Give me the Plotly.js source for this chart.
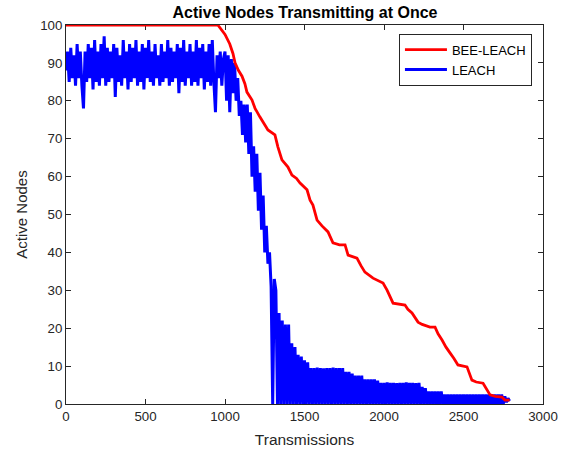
<!DOCTYPE html>
<html>
<head>
<meta charset="utf-8">
<script src="https://cdn.plot.ly/plotly-3.0.1.min.js"></script>
<style>html,body{margin:0;padding:0;background:#fff;}#chart{width:563px;height:452px;}</style>
</head>
<body>
<div id="chart"></div>
<script>
// BEE-LEACH: active nodes
const beeX = [0, 955, 1000, 1030, 1050, 1063, 1085, 1107, 1125, 1138, 1170, 1189, 1220, 1245, 1270, 1314, 1333, 1358, 1396, 1421, 1450, 1472, 1516, 1535, 1553, 1579, 1610, 1648, 1679, 1720, 1755, 1774, 1830, 1855, 1880, 1931, 1994, 2020, 2057, 2132, 2150, 2176, 2214, 2240, 2289, 2321, 2340, 2365, 2390, 2415, 2440, 2465, 2522, 2553, 2580, 2623, 2667, 2700, 2742, 2761, 2790];
const beeY = [100, 100, 97.5, 95, 92.5, 90, 88, 86.5, 84.5, 82.3, 80.2, 78, 75.7, 74, 72.3, 71, 67.8, 64.4, 62.5, 60.4, 59.5, 58.3, 56.5, 53.8, 52.5, 48.5, 47, 45.4, 42.5, 42, 42, 39.3, 38.5, 36.5, 34.8, 33.2, 31.9, 30, 26.6, 26.1, 25, 24, 21.6, 21, 20.3, 20.3, 18.5, 16.9, 15, 13.5, 12, 10.3, 9.8, 6.3, 5.8, 5.5, 2.4, 2, 1.8, 1, 1];

// LEACH: active nodes, one reading every leachStep transmissions starting at 0
const leachStep = 10;
const leachY = [
  88, 93, 85, 94, 86, 92, 84, 95, 86, 93,
  84, 78, 93, 85, 95, 86, 94, 83, 96, 85,
  93, 84, 95, 86, 97, 84, 94, 85, 93, 86,
  95, 81, 94, 85, 92, 84, 96, 86, 93, 83,
  95, 85, 94, 86, 96, 84, 93, 85, 95, 83,
  94, 86, 96, 85, 93, 84, 95, 86, 92, 84,
  95, 85, 93, 86, 96, 84, 94, 85, 93, 86,
  95, 82, 94, 85, 96, 84, 93, 86, 95, 84,
  93, 85, 96, 84, 94, 86, 95, 83, 93, 85,
  95, 84, 96, 85, 77, 92, 86, 93, 84, 91,
  93, 80, 92, 77, 91, 82, 90, 80, 86, 76,
  80, 71, 79, 69, 79, 66, 77, 60, 68, 56,
  66, 51, 61, 46, 55, 40, 47, 37, 40, 31,
  0, 33, 30,
  0, 24, 0, 22, 0, 21, 0, 21, 0, 16,
  0, 15, 0, 13, 0, 12.5, 0, 11.5, 0, 11,
  0, 9.5, 0, 9.5, 0, 9.6, 0, 9.5, 0, 9.4,
  0, 9.5, 0, 9.5, 0, 9.6, 0, 9.5, 0, 9.5,
  0, 9.5, 0, 8.5, 0, 8.5, 0, 8, 0, 7.5,
  0, 7.5, 0, 7.5, 0, 6.5, 0, 6.5, 0, 6.5,
  0, 6.5, 0, 6.2, 0, 5.6, 0, 5.6, 0, 5.7,
  0, 5.6, 0, 5.6, 0, 5.5, 0, 5.6, 0, 5.6,
  0, 5.7, 0, 5.6, 0, 5.6, 0, 5.5, 0, 5.6,
  0, 4.5, 0, 4.2, 0, 3.3, 0, 3.3, 0, 3.3,
  0, 3.3, 0, 3.3, 0, 2.5, 0, 2.5, 0, 2.5,
  0, 2.5, 0, 2.5, 0, 2.5, 0, 2.5, 0, 2.5,
  0, 2.5, 0, 2.5, 0, 2.5, 0, 2.5, 0, 2.5,
  0, 2.5, 0, 2.5, 0, 2.5, 0, 2.5, 0, 2.5,
  0, 2.5, 0, 2, 0.5, 1.5, 0.8
];
const leachX = leachY.map((_, i) => i * leachStep);

const xTicks = [0, 500, 1000, 1500, 2000, 2500, 3000];
const yTicks = [0, 10, 20, 30, 40, 50, 60, 70, 80, 90, 100];

const axisColor = '#262626';
const fontFam = '"Liberation Sans", Arial, Helvetica, sans-serif';

const traces = [
  {x: leachX, y: leachY, name: 'LEACH', type: 'scatter', mode: 'lines',
   line: {color: '#0000ff', width: 3, simplify: false}},
  {x: beeX, y: beeY, name: 'BEE-LEACH', type: 'scatter', mode: 'lines',
   line: {color: '#ff0000', width: 2.8, simplify: false}}
];

const axisCommon = {
  showgrid: false, zeroline: false, showline: true, mirror: 'ticks',
  linecolor: axisColor, linewidth: 1, ticks: 'inside', ticklen: 5,
  tickcolor: axisColor, tickwidth: 1, layer: 'below traces',
  tickfont: {family: fontFam, size: 13.3, color: axisColor}
};

const layout = {
  width: 563, height: 452,
  margin: {l: 66, r: 20, t: 25, b: 48, pad: 0},
  paper_bgcolor: '#ffffff', plot_bgcolor: '#ffffff',
  title: {text: 'Active Nodes Transmitting at Once', x: 0.5417, xanchor: 'center',
          y: 1 - 12 / 452, yanchor: 'middle',
          font: {family: fontFam, size: 16, weight: 700, color: '#000000'}},
  xaxis: Object.assign({}, axisCommon, {
    range: [0, 3000], tickvals: xTicks, ticktext: xTicks.map(String),
    title: {text: 'Transmissions', standoff: 11, font: {family: fontFam, size: 15.5, color: axisColor}}
  }),
  yaxis: Object.assign({}, axisCommon, {
    range: [0, 100], tickvals: yTicks, ticktext: yTicks.map(String),
    title: {text: 'Active Nodes', standoff: 8, font: {family: fontFam, size: 15, color: axisColor}}
  }),
  showlegend: true,
  legend: {x: 0.698, y: 0.977, xanchor: 'left', yanchor: 'top',
           bgcolor: '#ffffff', bordercolor: axisColor, borderwidth: 1,
           traceorder: 'reversed', itemwidth: 42,
           font: {family: fontFam, size: 13, color: '#000000'}}
};

Plotly.newPlot('chart', traces, layout, {staticPlot: true, displayModeBar: false});
</script>
</body>
</html>
